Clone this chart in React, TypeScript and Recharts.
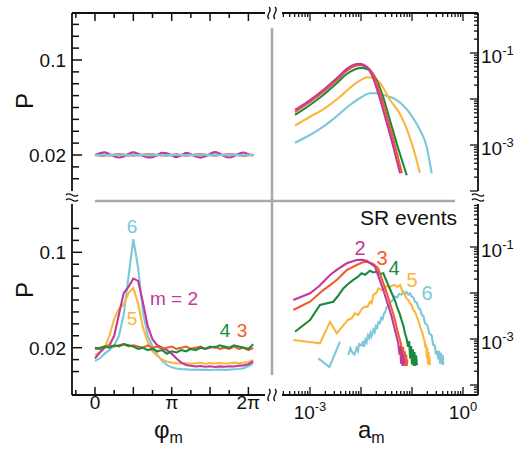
import React from "react";
import { LineChart, Line, XAxis, YAxis } from "recharts";

const FONT = "'Liberation Sans', Arial, Helvetica, sans-serif";
const INK = "#111";
const GRAY = "#a9a9a9";

const C2 = "#c0399d";
const C3 = "#f15a29";
const C4 = "#1b8a3e";
const C5 = "#fbb640";
const C6 = "#7cc8d9";

// phase bins, in units of pi
const phiBins = [
  0, 0.0625, 0.125, 0.1875, 0.25, 0.3125, 0.375, 0.4375, 0.5, 0.5625, 0.625, 0.6875,
  0.75, 0.8125, 0.875, 0.9375, 1, 1.0625, 1.125, 1.1875, 1.25, 1.3125, 1.375, 1.4375,
  1.5, 1.5625, 1.625, 1.6875, 1.75, 1.8125, 1.875, 1.9375, 2, 2.0625,
];

// top-left: phase distribution, all events
const tlM2 = [
  0.02, 0.0215, 0.0222, 0.0207, 0.0188, 0.0179, 0.0188, 0.021, 0.0222, 0.021, 0.0192, 0.018,
  0.0182, 0.02, 0.0219, 0.0215, 0.0197, 0.0182, 0.0197, 0.0218, 0.0207, 0.0188, 0.0178, 0.019,
  0.0209, 0.0224, 0.0212, 0.019, 0.0179, 0.0191, 0.021, 0.0221, 0.0207, 0.0197,
];
const tlM3 = [
  0.0201, 0.0197, 0.0195, 0.0199, 0.0204, 0.0206, 0.0203, 0.0198, 0.0195, 0.0198, 0.0203, 0.0206,
  0.0205, 0.02, 0.0196, 0.0197, 0.0202, 0.0205, 0.0201, 0.0196, 0.0199, 0.0204, 0.0206, 0.0203,
  0.0198, 0.0195, 0.0198, 0.0203, 0.0206, 0.0203, 0.0198, 0.0195, 0.0199, 0.0201,
];
const tlM4 = [
  0.02, 0.0201, 0.02, 0.0199, 0.02, 0.0201, 0.02, 0.0199, 0.02, 0.0201, 0.02, 0.0199,
  0.02, 0.0201, 0.02, 0.0199, 0.02, 0.0201, 0.02, 0.0199, 0.02, 0.0201, 0.02, 0.0199,
  0.02, 0.0201, 0.02, 0.0199, 0.02, 0.0201, 0.02, 0.0199, 0.02, 0.02,
];
const tlM5 = [
  0.0199, 0.0199, 0.02, 0.0199, 0.0199, 0.02, 0.0199, 0.0199, 0.02, 0.0199, 0.0199, 0.02,
  0.0199, 0.0199, 0.02, 0.0199, 0.0199, 0.02, 0.0199, 0.0199, 0.02, 0.0199, 0.0199, 0.02,
  0.0199, 0.0199, 0.02, 0.0199, 0.0199, 0.02, 0.0199, 0.0199, 0.02, 0.0199,
];
const tlM6 = [
  0.0199, 0.0199, 0.02, 0.0199, 0.0199, 0.02, 0.0199, 0.0199, 0.02, 0.0199, 0.0199, 0.02,
  0.0199, 0.0199, 0.02, 0.0199, 0.0199, 0.02, 0.0199, 0.0199, 0.02, 0.0199, 0.0199, 0.02,
  0.0199, 0.0199, 0.02, 0.0199, 0.0199, 0.02, 0.0199, 0.0199, 0.02, 0.0199,
];

// bottom-left: phase distribution, SR events
const blM2 = [
  0.011, 0.016, 0.02, 0.022, 0.03, 0.048, 0.066, 0.071, 0.078, 0.076, 0.058, 0.038,
  0.027, 0.022, 0.02, 0.018, 0.015, 0.011, 0.0075, 0.0055, 0.0048, 0.0042, 0.0046, 0.004,
  0.0044, 0.0038, 0.0043, 0.004, 0.0045, 0.0042, 0.0048, 0.0052, 0.0062, 0.0085,
];
const blM3 = [
  0.019, 0.02, 0.021, 0.022, 0.021, 0.022, 0.023, 0.021, 0.022, 0.021, 0.02, 0.022,
  0.02, 0.021, 0.019, 0.02, 0.021, 0.019, 0.02, 0.021, 0.019, 0.02, 0.021, 0.019,
  0.02, 0.021, 0.019, 0.02, 0.019, 0.021, 0.019, 0.02, 0.018, 0.02,
];
const blM4 = [
  0.02, 0.019, 0.021, 0.02, 0.022, 0.021, 0.023, 0.022, 0.021, 0.019, 0.02, 0.018,
  0.019, 0.017, 0.018, 0.015, 0.017, 0.016, 0.018, 0.017, 0.019, 0.018, 0.02, 0.019,
  0.021, 0.02, 0.022, 0.021, 0.02, 0.022, 0.021, 0.02, 0.019, 0.023,
];
const blM5 = [
  0.014, 0.016, 0.02, 0.03, 0.044, 0.053, 0.056, 0.066, 0.07, 0.057, 0.037, 0.025,
  0.017, 0.013, 0.01, 0.0085, 0.0075, 0.007, 0.0068, 0.0072, 0.0065, 0.007, 0.0074, 0.0066,
  0.0071, 0.0068, 0.0073, 0.0067, 0.007, 0.0075, 0.0069, 0.0074, 0.008, 0.0098,
];
const blM6 = [
  0.009, 0.011, 0.015, 0.018, 0.022, 0.03, 0.048, 0.08, 0.111, 0.087, 0.05, 0.03,
  0.021, 0.014, 0.009, 0.0055, 0.0035, 0.0025, 0.002, 0.0018, 0.0015, 0.0017, 0.0014, 0.0016,
  0.0013, 0.0015, 0.0017, 0.0014, 0.0016, 0.0019, 0.0022, 0.0028, 0.0045, 0.0068,
];

// top-right: amplitude distribution, all events [a, P]
const trM2: [number, number][] = [
  [5.08e-4, 5.77e-3], [1e-3, 9.5e-3], [1.82e-3, 1.57e-2], [3.34e-3, 2.82e-2], [5.25e-3, 4.5e-2],
  [7.0e-3, 5.5e-2], [9.5e-3, 5.8e-2], [1.2e-2, 5.3e-2], [1.62e-2, 3.4e-2], [2.18e-2, 1.33e-2],
  [2.96e-2, 4.12e-3], [4.3e-2, 9.2e-4], [5.82e-2, 2.43e-4],
];
const trM3: [number, number][] = [
  [5.08e-4, 5.2e-3], [1e-3, 8.6e-3], [1.82e-3, 1.42e-2], [3.34e-3, 2.56e-2], [5.25e-3, 4.1e-2],
  [7.2e-3, 5.1e-2], [1.0e-2, 5.45e-2], [1.3e-2, 5.0e-2], [1.77e-2, 3.3e-2], [2.38e-2, 1.33e-2],
  [3.24e-2, 4.1e-3], [4.7e-2, 9.2e-4], [6.35e-2, 2.43e-4],
];
const trM4: [number, number][] = [
  [5.08e-4, 4.5e-3], [1e-3, 7.4e-3], [1.82e-3, 1.22e-2], [3.34e-3, 2.2e-2], [5.25e-3, 3.5e-2],
  [7.5e-3, 4.4e-2], [1.05e-2, 4.75e-2], [1.4e-2, 4.35e-2], [1.95e-2, 2.8e-2], [2.65e-2, 1.2e-2],
  [3.6e-2, 3.8e-3], [5.3e-2, 8.8e-4], [7.9e-2, 2.2e-4],
];
const trM5: [number, number][] = [
  [5.08e-4, 2.65e-3], [1e-3, 4.12e-3], [1.82e-3, 5.97e-3], [3.87e-3, 1.12e-2], [7.06e-3, 2.01e-2],
  [1.0e-2, 2.6e-2], [1.31e-2, 2.96e-2], [1.75e-2, 2.85e-2], [2.36e-2, 2.23e-2], [3.71e-2, 9.5e-3],
  [5.82e-2, 4.72e-3], [9.86e-2, 1.1e-3], [1.435e-1, 2.46e-4],
];
const trM6: [number, number][] = [
  [5.08e-4, 1.12e-3], [1e-3, 1.65e-3], [1.82e-3, 2.5e-3], [3.38e-3, 4.27e-3], [6.08e-3, 7.41e-3],
  [1.0e-2, 1.08e-2], [1.5e-2, 1.33e-2], [2.0e-2, 1.33e-2], [2.74e-2, 1.22e-2], [5.01e-2, 9.5e-3],
  [9.14e-2, 4.89e-3], [1.435e-1, 2.12e-3], [1.94e-1, 9.18e-4], [2.43e-1, 2.43e-4],
];

// bottom-right: amplitude distribution, SR events [a, P]
const brM2: [number, number][] = [
  [4.71e-4, 7.05e-3], [1e-3, 9.84e-3], [1.5e-3, 1.4e-2], [2.47e-3, 2.46e-2], [3.5e-3, 3.3e-2],
  [5.25e-3, 4.43e-2], [8.24e-3, 5.21e-2], [1.05e-2, 5.3e-2], [1.29e-2, 5.04e-2], [1.88e-2, 3.73e-2],
  [2.74e-2, 1.16e-2], [4.0e-2, 3.05e-3], [4.6e-2, 1.6e-3], [5.38e-2, 8.07e-4], [5.7e-2, 4.6e-4],
  [5.9e-2, 7.0e-4], [6.1e-2, 2.9e-4], [6.3e-2, 5.5e-4], [6.5e-2, 2.6e-4], [6.7e-2, 4.6e-4],
  [6.85e-2, 2.6e-4], [7.0e-2, 3.6e-4],
];
const brM3: [number, number][] = [
  [4.71e-4, 4.27e-3], [1e-3, 6.47e-3], [1.82e-3, 1.16e-2], [2.5e-3, 1.5e-2], [3.34e-3, 1.92e-2],
  [5.25e-3, 3.16e-2], [8.24e-3, 4.06e-2], [1.05e-2, 4.6e-2], [1.29e-2, 4.79e-2], [1.74e-2, 4.27e-2],
  [2.15e-2, 3.49e-2], [3.16e-2, 1.05e-2], [4.54e-2, 2.86e-3], [5.2e-2, 1.5e-3], [6.08e-2, 7.78e-4],
  [6.4e-2, 4.4e-4], [6.7e-2, 6.8e-4], [6.95e-2, 2.8e-4], [7.2e-2, 5.4e-4], [7.45e-2, 2.6e-4],
  [7.7e-2, 4.6e-4], [7.9e-2, 2.6e-4], [8.1e-2, 3.6e-4],
];
const brM4: [number, number][] = [
  [5.08e-4, 1.44e-3], [1e-3, 2.59e-3], [1.57e-3, 5.48e-3], [2.86e-3, 6.47e-3], [3.5e-3, 8.5e-3],
  [4.5e-3, 1.26e-2], [5.5e-3, 1.55e-2], [7.06e-3, 1.92e-2], [8.5e-3, 2.2e-2], [1.03e-2, 2.68e-2],
  [1.2e-2, 2.5e-2], [1.5e-2, 3.05e-2], [1.75e-2, 2.8e-2], [2.06e-2, 2.93e-2], [2.4e-2, 2.6e-2],
  [2.74e-2, 2.68e-2], [3.4e-2, 1.5e-2], [4.24e-2, 8.6e-3], [4.7e-2, 6.6e-3], [5.2e-2, 4.6e-3],
  [5.7e-2, 3.6e-3], [6.37e-2, 2.4e-3], [6.9e-2, 1.8e-3], [7.3e-2, 1.3e-3], [7.8e-2, 1.05e-3],
  [8.35e-2, 6.8e-4], [8.8e-2, 9.0e-4], [9.2e-2, 3.8e-4], [9.6e-2, 7.0e-4], [1.0e-1, 2.8e-4],
  [1.04e-1, 6.0e-4], [1.08e-1, 2.6e-4], [1.12e-1, 5.2e-4], [1.16e-1, 2.6e-4], [1.2e-1, 4.4e-4],
  [1.25e-1, 2.7e-4],
];
const brM5: [number, number][] = [
  [4.71e-4, 9.5e-4], [1.57e-3, 8.07e-4], [2.47e-3, 2.38e-3], [3.34e-3, 1.33e-3], [4.85e-3, 2.19e-3],
  [5.5e-3, 2.6e-3], [6.58e-3, 2.82e-3], [7.5e-3, 3.6e-3], [8.85e-3, 3.33e-3], [1.05e-2, 4.6e-3],
  [1.2e-2, 5.04e-3], [1.35e-2, 5.0e-3], [1.5e-2, 6.47e-3], [1.62e-2, 6.0e-3], [1.74e-2, 9.05e-3],
  [2.0e-2, 1.0e-2], [2.18e-2, 1.26e-2], [2.6e-2, 1.15e-2], [3.1e-2, 1.4e-2], [3.71e-2, 1.37e-2],
  [4.5e-2, 1.5e-2], [5.2e-2, 1.35e-2], [5.82e-2, 1.49e-2], [6.75e-2, 9.84e-3], [7.3e-2, 9.0e-3],
  [7.8e-2, 7.6e-3], [8.5e-2, 7.0e-3], [9.14e-2, 5.97e-3], [9.9e-2, 5.4e-3], [1.07e-1, 4.2e-3],
  [1.15e-1, 3.9e-3], [1.24e-1, 3.05e-3], [1.34e-1, 2.5e-3], [1.45e-1, 1.8e-3], [1.56e-1, 1.5e-3],
  [1.67e-1, 1.1e-3], [1.76e-1, 9.0e-4], [1.85e-1, 6.4e-4], [1.9e-1, 7.6e-4], [1.95e-1, 3.9e-4],
  [2.0e-1, 6.4e-4], [2.05e-1, 2.9e-4], [2.1e-1, 5.2e-4], [2.15e-1, 2.7e-4], [2.2e-1, 4.2e-4],
  [2.24e-1, 2.7e-4],
];
const brM6: [number, number | null][] = [
  [1.46e-3, 3.8e-4], [2.4e-3, 2.45e-4], [3.87e-3, 8.73e-4], [4.6e-3, null],
  [5.64e-3, 4.49e-4], [6.2e-3, 6.3e-4], [6.67e-3, 5.2e-4], [7.4e-3, 4.6e-4], [8.24e-3, 6.4e-4],
  [8.7e-3, 5.5e-4], [9.2e-3, 7.8e-4], [1.03e-2, 7.2e-4], [1.1e-2, 9.0e-4], [1.15e-2, 6.8e-4],
  [1.22e-2, 9.6e-4], [1.29e-2, 8.5e-4], [1.37e-2, 1.2e-3], [1.45e-2, 1.05e-3], [1.53e-2, 1.35e-3],
  [1.6e-2, 1.15e-3], [1.74e-2, 1.6e-3], [1.85e-2, 1.4e-3], [1.95e-2, 1.9e-3], [2.07e-2, 1.75e-3],
  [2.18e-2, 2.3e-3], [2.35e-2, 2.2e-3], [2.5e-2, 2.9e-3], [2.65e-2, 2.7e-3], [2.8e-2, 3.5e-3],
  [3.0e-2, 3.9e-3], [3.19e-2, 5.0e-3], [3.5e-2, 5.3e-3], [3.8e-2, 6.4e-3], [4.2e-2, 7.0e-3],
  [4.65e-2, 8.4e-3], [5.1e-2, 8.0e-3], [5.6e-2, 9.6e-3], [6.2e-2, 9.2e-3], [6.75e-2, 1.08e-2],
  [7.3e-2, 9.6e-3], [7.8e-2, 1.05e-2], [8.5e-2, 9.2e-3], [9.14e-2, 9.9e-3], [9.9e-2, 8.3e-3],
  [1.07e-1, 8.0e-3], [1.15e-1, 6.4e-3], [1.24e-1, 6.2e-3], [1.34e-1, 4.8e-3], [1.45e-1, 4.4e-3],
  [1.56e-1, 3.3e-3], [1.67e-1, 3.2e-3], [1.8e-1, 2.2e-3], [2.0e-1, 2.0e-3], [2.2e-1, 1.3e-3],
  [2.43e-1, 1.2e-3], [2.6e-1, 7.5e-4], [2.8e-1, 7.2e-4], [2.95e-1, 4.6e-4], [3.1e-1, 5.6e-4],
  [3.28e-1, 3.6e-4], [3.4e-1, 5.5e-4], [3.55e-1, 2.9e-4], [3.7e-1, 5.0e-4], [3.85e-1, 2.8e-4],
  [4.0e-1, 4.5e-4], [4.11e-1, 2.72e-4],
];

// ticks and their labels
const phiTicks = [-0.25, 0, 0.25, 0.5, 0.75, 1, 1.25, 1.5, 1.75, 2];
const phiLabels: [number, string][] = [[0, "0"], [1, "π"], [2, "2π"]];
const pTicksTop = [0, 0.01, 0.02, 0.03, 0.04, 0.05, 0.06, 0.07, 0.08, 0.09, 0.1, 0.11, 0.12, 0.13];
const pTicksBottom = [0, 0.01, 0.02, 0.03, 0.04, 0.05, 0.06, 0.07, 0.08, 0.09, 0.1, 0.11, 0.12];
const pLabels: [number, string][] = [[0.02, "0.02"], [0.1, "0.1"]];
const decades = [1e-5, 1e-4, 1e-3, 1e-2, 1e-1, 1];
const aLabels: [number, string][] = [[1e-3, "-3"], [1, "0"]];
const pLogLabels: [number, string][] = [[1e-1, "-1"], [1e-3, "-3"]];

// plot rectangles (page px)
const LX = 72, LR = 265, RX = 282, RR = 478;
const TT = 13, TB = 191, BT = 204, BB = 395;

const phiDomain: [number, number] = [(LX - 95) / 76.7, (LR - 95) / 76.7];
const tlPDomain: [number, number] = [0.1 - (TB - 60) / 1187.5, 0.1 + (60 - TT) / 1187.5];
const blPDomain: [number, number] = [0.1 - (BB - 252.3) / 1192.5, 0.1 + (252.3 - BT) / 1192.5];
const aDomain: [number, number] = [10 ** (-3 + (RX - 310) / 51), 10 ** (-3 + (RR - 310) / 51)];
const trPDomain: [number, number] = [10 ** (-1 - (TB - 53) / 46), 10 ** (-1 + (53 - TT) / 46)];
const brPDomain: [number, number] = [10 ** (-1 - (BB - 247) / 46), 10 ** (-1 + (247 - BT) / 46)];

const logTicks = (d: [number, number]) =>
  decades
    .flatMap((dec) => [1, 2, 3, 4, 5, 6, 7, 8, 9].map((m) => m * dec))
    .filter((v) => v >= d[0] && v <= d[1]);

type Row = { x: number; p: number | null };
const phiRows = (vals: number[]): Row[] => phiBins.map((x, i) => ({ x, p: vals[i] }));
const aRows = (pts: [number, number | null][]): Row[] => pts.map(([x, p]) => ({ x, p }));

const near = (a: number, b: number) => Math.abs(a - b) <= 1e-12 + 1e-6 * Math.abs(b);
const labelOf = (list: [number, string][], v: number) => {
  const hit = list.find(([t]) => near(v, t));
  return hit ? hit[1] : null;
};
const isDecade = (v: number) => near(Math.log10(v), Math.round(Math.log10(v)));

const Pow = ({ x, y, exp, anchor }: { x: number; y: number; exp: string; anchor: "start" | "middle" }) => (
  <text x={x} y={y} textAnchor={anchor} fontSize={19} fontFamily={FONT} fill={INK}>
    10
    <tspan dy={-8} fontSize={13}>
      {exp}
    </tspan>
  </text>
);

const pLeftTick = (p: any) => {
  const lab = labelOf(pLabels, p.payload.value);
  return (
    <g>
      <line x1={p.x} y1={p.y} x2={p.x + (lab ? 10 : 7)} y2={p.y} stroke={INK} strokeWidth={1.5} />
      {lab && (
        <text x={p.x - 6} y={p.y + 6.8} textAnchor="end" fontSize={19} fontFamily={FONT} fill={INK}>
          {lab}
        </text>
      )}
    </g>
  );
};

const phiTopTick = (p: any) => {
  const major = near(p.payload.value * 2, Math.round(p.payload.value * 2));
  return <line x1={p.x} y1={p.y} x2={p.x} y2={p.y + (major ? 8 : 5)} stroke={INK} strokeWidth={1.5} />;
};

const phiBottomTick = (p: any) => {
  const major = near(p.payload.value * 2, Math.round(p.payload.value * 2));
  const lab = labelOf(phiLabels, p.payload.value);
  return (
    <g>
      <line x1={p.x} y1={p.y} x2={p.x} y2={p.y - (major ? 8 : 5)} stroke={INK} strokeWidth={1.5} />
      {lab && (
        <text x={p.x} y={p.y + 14} textAnchor="middle" fontSize={19} fontFamily={FONT} fill={INK}>
          {lab}
        </text>
      )}
    </g>
  );
};

const aTopTick = (p: any) => (
  <line x1={p.x} y1={p.y} x2={p.x} y2={p.y + (isDecade(p.payload.value) ? 8 : 4)} stroke={INK} strokeWidth={1.3} />
);

const aBottomTick = (p: any) => {
  const lab = labelOf(aLabels, p.payload.value);
  return (
    <g>
      <line x1={p.x} y1={p.y} x2={p.x} y2={p.y - (isDecade(p.payload.value) ? 8 : 4)} stroke={INK} strokeWidth={1.3} />
      {lab && <Pow x={p.x} y={p.y + 24} exp={lab} anchor="middle" />}
    </g>
  );
};

const pRightTick = (p: any) => {
  const lab = labelOf(pLogLabels, p.payload.value);
  return (
    <g>
      <line x1={p.x} y1={p.y} x2={p.x - (isDecade(p.payload.value) ? 8 : 4)} y2={p.y} stroke={INK} strokeWidth={1.3} />
      {lab && <Pow x={p.x + 3} y={p.y + 10} exp={lab} anchor="start" />}
    </g>
  );
};

type Series = { key: string; color: string; data: Row[] };

interface PanelProps {
  x0: number;
  x1: number;
  y0: number;
  y1: number;
  ySide: "left" | "right";
  xSide: "top" | "bottom";
  log: boolean;
  xDomain: [number, number];
  yDomain: [number, number];
  xTicks: number[];
  yTicks: number[];
  xTick: (p: any) => React.ReactElement;
  yTick: (p: any) => React.ReactElement;
  curve: "linear" | "monotone";
  series: Series[];
}

const PAD = 40;
const axisLine = { stroke: INK, strokeWidth: 1.8 };

function Panel(props: PanelProps) {
  const { x0, x1, y0, y1, ySide, xSide, log } = props;
  const margin = {
    left: ySide === "left" ? PAD - 1 : PAD,
    right: ySide === "right" ? PAD - 1 : PAD,
    top: xSide === "top" ? PAD - 1 : PAD,
    bottom: xSide === "bottom" ? PAD - 1 : PAD,
  };
  return (
    <div style={{ position: "absolute", left: x0 - PAD, top: y0 - PAD }}>
      <LineChart width={x1 - x0 + 2 * PAD} height={y1 - y0 + 2 * PAD} margin={margin}>
        <XAxis
          type="number"
          dataKey="x"
          orientation={xSide}
          height={1}
          scale={log ? "log" : "linear"}
          domain={props.xDomain}
          allowDataOverflow
          ticks={props.xTicks}
          interval={0}
          tickSize={0}
          tickMargin={0}
          tickLine={false}
          tick={props.xTick}
          axisLine={axisLine}
        />
        <YAxis
          type="number"
          orientation={ySide}
          width={1}
          scale={log ? "log" : "linear"}
          domain={props.yDomain}
          allowDataOverflow
          ticks={props.yTicks}
          interval={0}
          tickSize={0}
          tickMargin={0}
          tickLine={false}
          tick={props.yTick}
          axisLine={axisLine}
        />
        {props.series.map((s) => (
          <Line
            key={s.key}
            data={s.data}
            dataKey="p"
            type={props.curve}
            stroke={s.color}
            strokeWidth={2.1}
            dot={false}
            activeDot={false}
            connectNulls={false}
            isAnimationActive={false}
          />
        ))}
      </LineChart>
    </div>
  );
}

const hTilde = (cx: number, cy: number) =>
  `M${cx - 6},${cy} C${cx - 2},${cy - 4.5} ${cx + 2},${cy + 4.5} ${cx + 6},${cy}`;
const vTilde = (cx: number, cy: number) =>
  `M${cx},${cy - 6} C${cx + 4.5},${cy - 2} ${cx - 4.5},${cy + 2} ${cx},${cy + 6}`;

export default function App() {
  const breaks = [
    hTilde(LX, 195), hTilde(LX, 200), hTilde(RR, 195), hTilde(RR, 200),
    vTilde(269, TT), vTilde(275, TT), vTilde(269, BB), vTilde(275, BB),
  ];
  const txt = { fontFamily: FONT };
  return (
    <div style={{ position: "absolute", left: 0, top: 0, width: 521, height: 450, background: "#fff", overflow: "hidden" }}>
      <style>{`.recharts-surface{overflow:visible}`}</style>
      <Panel
        x0={LX} x1={LR} y0={TT} y1={TB} ySide="left" xSide="top" log={false}
        xDomain={phiDomain} yDomain={tlPDomain} xTicks={phiTicks} yTicks={pTicksTop}
        xTick={phiTopTick} yTick={pLeftTick} curve="monotone"
        series={[
          { key: "m5", color: C5, data: phiRows(tlM5) },
          { key: "m4", color: C4, data: phiRows(tlM4) },
          { key: "m2", color: C2, data: phiRows(tlM2) },
          { key: "m3", color: C3, data: phiRows(tlM3) },
          { key: "m6", color: C6, data: phiRows(tlM6) },
        ]}
      />
      <Panel
        x0={LX} x1={LR} y0={BT} y1={BB} ySide="left" xSide="bottom" log={false}
        xDomain={phiDomain} yDomain={blPDomain} xTicks={phiTicks} yTicks={pTicksBottom}
        xTick={phiBottomTick} yTick={pLeftTick} curve="linear"
        series={[
          { key: "m6", color: C6, data: phiRows(blM6) },
          { key: "m5", color: C5, data: phiRows(blM5) },
          { key: "m2", color: C2, data: phiRows(blM2) },
          { key: "m3", color: C3, data: phiRows(blM3) },
          { key: "m4", color: C4, data: phiRows(blM4) },
        ]}
      />
      <Panel
        x0={RX} x1={RR} y0={TT} y1={TB} ySide="right" xSide="top" log
        xDomain={aDomain} yDomain={trPDomain} xTicks={logTicks(aDomain)} yTicks={logTicks(trPDomain)}
        xTick={aTopTick} yTick={pRightTick} curve="monotone"
        series={[
          { key: "m6", color: C6, data: aRows(trM6) },
          { key: "m5", color: C5, data: aRows(trM5) },
          { key: "m4", color: C4, data: aRows(trM4) },
          { key: "m3", color: C3, data: aRows(trM3) },
          { key: "m2", color: C2, data: aRows(trM2) },
        ]}
      />
      <Panel
        x0={RX} x1={RR} y0={BT} y1={BB} ySide="right" xSide="bottom" log
        xDomain={aDomain} yDomain={brPDomain} xTicks={logTicks(aDomain)} yTicks={logTicks(brPDomain)}
        xTick={aBottomTick} yTick={pRightTick} curve="linear"
        series={[
          { key: "m6", color: C6, data: aRows(brM6) },
          { key: "m5", color: C5, data: aRows(brM5) },
          { key: "m4", color: C4, data: aRows(brM4) },
          { key: "m3", color: C3, data: aRows(brM3) },
          { key: "m2", color: C2, data: aRows(brM2) },
        ]}
      />
      <svg width={521} height={450} style={{ position: "absolute", left: 0, top: 0, pointerEvents: "none" }}>
        <line x1={95} y1={201} x2={455} y2={201} stroke={GRAY} strokeWidth={2.5} />
        <line x1={272} y1={28} x2={272} y2={375} stroke={GRAY} strokeWidth={2.5} />
        {breaks.map((d, i) => (
          <path key={i} d={d} fill="none" stroke={INK} strokeWidth={1.4} />
        ))}
        <text transform="translate(33,101) rotate(-90)" textAnchor="middle" fontSize={24} fill={INK} {...txt}>P</text>
        <text transform="translate(33,290) rotate(-90)" textAnchor="middle" fontSize={24} fill={INK} {...txt}>P</text>
        <text x={154} y={438} fontSize={24} fill={INK} {...txt}>
          φ<tspan dy={5} fontSize={16}>m</tspan>
        </text>
        <text x={358} y={438} fontSize={24} fill={INK} {...txt}>
          a<tspan dy={5} fontSize={16}>m</tspan>
        </text>
        <text x={457} y={225} textAnchor="end" fontSize={21} fill={INK} {...txt}>SR events</text>
        <g fontSize={19} textAnchor="middle" {...txt}>
          <text x={132} y={233} fill={C6}>6</text>
          <text x={132} y={325} fill={C5}>5</text>
          <text x={225} y={337} fill={C4}>4</text>
          <text x={242} y={337} fill={C3}>3</text>
          <text x={150} y={305} fill={C2} textAnchor="start">m = 2</text>
        </g>
        <g fontSize={20} textAnchor="middle" {...txt}>
          <text x={360} y={255} fill={C2}>2</text>
          <text x={382} y={265} fill={C3}>3</text>
          <text x={394} y={275} fill={C4}>4</text>
          <text x={412} y={287} fill={C5}>5</text>
          <text x={427} y={300} fill={C6}>6</text>
        </g>
      </svg>
    </div>
  );
}
